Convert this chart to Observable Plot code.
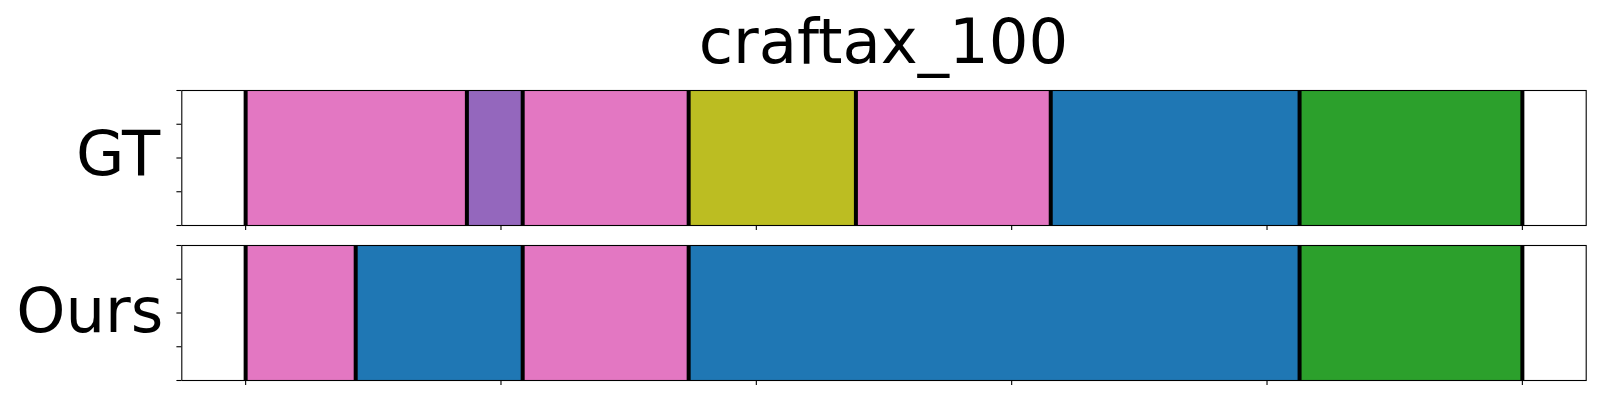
<!DOCTYPE html>
<html>
<head>
<meta charset="utf-8">
<script src="https://cdn.jsdelivr.net/npm/d3@7"></script>
<script src="https://cdn.jsdelivr.net/npm/@observablehq/plot@0.6"></script>
<style>
  html, body { margin: 0; padding: 0; background: #fff; }
  #wrap { position: relative; width: 1600px; height: 400px; font-family: "DejaVu Sans", sans-serif; }
  #title { position: absolute; left: 0; top: 0; }
  .panel { position: absolute; left: 0; }
</style>
</head>
<body>
<div id="wrap">
  <svg id="title" width="1600" height="85" xmlns="http://www.w3.org/2000/svg">
    <text x="883.5" y="63" text-anchor="middle" font-family="DejaVu Sans, sans-serif" font-size="62.5" fill="#000">craftax_100</text>
  </svg>
  <div class="panel" id="p1" style="top:80.3px"></div>
  <div class="panel" id="p2" style="top:235.3px"></div>
</div>
<script>
// ---- data ----
const rowNames = ["GT", "Ours"];
const classNames = ["class 0", "class 2", "class 4", "class 6", "class 8"];
const classColors = ["#1f77b4", "#2ca02c", "#9467bd", "#e377c2", "#bcbd22"];

const gtStarts = [0, 17.33, 21.7, 34.7, 47.8, 63.06, 82.55];
const gtEnds   = [17.33, 21.7, 34.7, 47.8, 63.06, 82.55, 100];
const gtClass  = ["class 6", "class 4", "class 6", "class 8", "class 6", "class 0", "class 2"];

const oursStarts = [0, 8.62, 21.7, 34.7, 82.55];
const oursEnds   = [8.62, 21.7, 34.7, 82.55, 100];
const oursClass  = ["class 6", "class 0", "class 6", "class 0", "class 2"];

const xTicks = [0, 20, 40, 60, 80, 100];
const yTicks = [0, 0.25, 0.5, 0.75, 1];

function segments(starts, ends, cls) {
  return starts.map((s, i) => ({start: s, end: ends[i], cls: cls[i]}));
}
function boundaries(starts, ends) {
  return Array.from(new Set([...starts, ...ends])).sort((a, b) => a - b);
}

function panel(label, segs, bounds, labelDx, labelDy) {
  return Plot.plot({
    width: 1600,
    height: 160,
    marginLeft: 181.3,
    marginRight: 14.3,
    marginTop: 10,
    marginBottom: 15,
    style: {fontFamily: "DejaVu Sans, sans-serif", background: "transparent", overflow: "visible"},
    x: {domain: [-5, 105], ticks: xTicks, tickSize: 4.9, tickFormat: () => "", label: null},
    y: {domain: [0, 1], ticks: yTicks, tickSize: 4.9, tickFormat: () => "", label: null},
    color: {domain: classNames, range: classColors},
    marks: [
      Plot.rect(segs, {x1: "start", x2: "end", y1: 0, y2: 1, fill: "cls"}),
      Plot.ruleX(bounds, {y1: 0, y2: 1, stroke: "#000", strokeWidth: 4}),
      Plot.axisX({ticks: xTicks, tickSize: 4.9, tickFormat: () => "", label: null, strokeWidth: 1.1}),
      Plot.axisY({ticks: yTicks, tickSize: 4.9, tickFormat: () => "", label: null, strokeWidth: 1.1}),
      Plot.frame({stroke: "#000", strokeWidth: 1.1}),
      Plot.text([label], {frameAnchor: "left", text: d => d, textAnchor: "end", dx: labelDx, dy: labelDy, fontSize: 62.5, fill: "#000", lineAnchor: "middle"})
    ]
  });
}

document.getElementById("p1").appendChild(
  panel(rowNames[0], segments(gtStarts, gtEnds, gtClass), boundaries(gtStarts, gtEnds), -21.5, -3.5));
document.getElementById("p2").appendChild(
  panel(rowNames[1], segments(oursStarts, oursEnds, oursClass), boundaries(oursStarts, oursEnds), -18.5, -1.5));
</script>
</body>
</html>
